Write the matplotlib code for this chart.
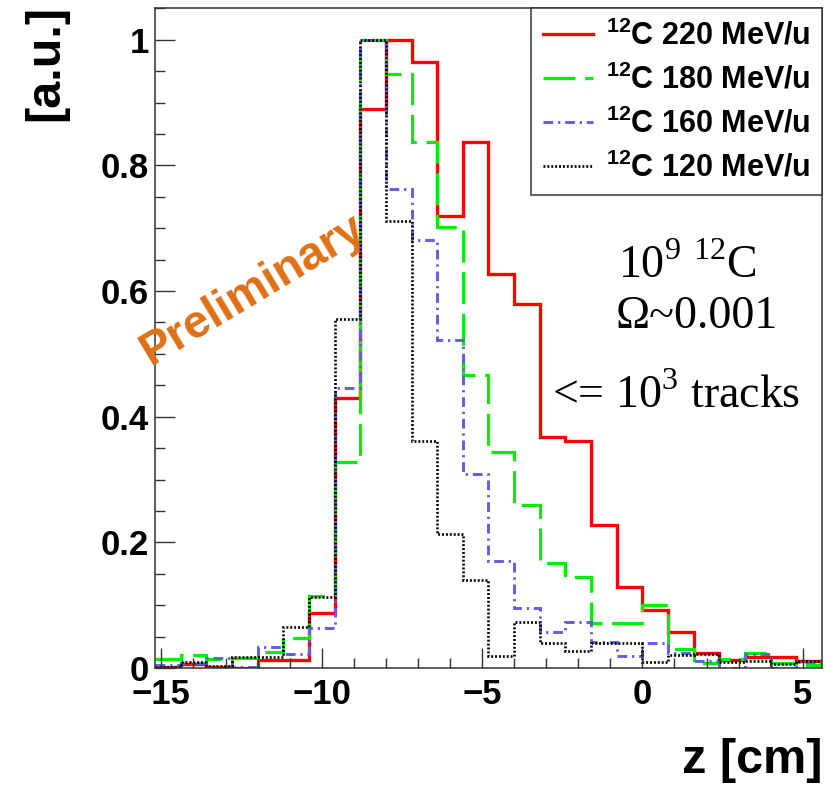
import numpy as np
import matplotlib
matplotlib.use("Agg")
import matplotlib.pyplot as plt
from matplotlib.ticker import MultipleLocator, FuncFormatter

plt.rcParams["font.family"] = ["Liberation Sans", "DejaVu Sans"]
plt.rcParams["font.weight"] = "bold"
plt.rcParams["mathtext.fontset"] = "custom"
plt.rcParams["mathtext.rm"] = "Liberation Serif:weight=normal"
plt.rcParams["mathtext.bf"] = "Liberation Sans:weight=bold"
plt.rcParams["lines.scale_dashes"] = False

# z binning: 26 bins of 0.8 cm from -15.2 to 5.6 cm
bin_edges = np.linspace(-15.2, 5.6, 27)

# normalised counts per bin for each beam energy
c220 = [0.002, 0.007, 0.002, 0.000, 0.012, 0.012, 0.088, 0.429, 0.890, 1.000,
        0.964, 0.720, 0.837, 0.627, 0.579, 0.368, 0.361, 0.227, 0.129, 0.093,
        0.057, 0.024, 0.012, 0.018, 0.017, 0.011]
c180 = [0.015, 0.021, 0.014, 0.016, 0.026, 0.047, 0.115, 0.328, 1.000, 0.945,
        0.837, 0.702, 0.467, 0.344, 0.259, 0.167, 0.145, 0.071, 0.071, 0.100,
        0.031, 0.008, 0.015, 0.024, 0.008, 0.004]
c160 = [0.004, 0.008, 0.016, 0.001, 0.034, 0.023, 0.063, 0.445, 1.000, 0.763,
        0.682, 0.522, 0.308, 0.170, 0.095, 0.057, 0.073, 0.042, 0.019, 0.040,
        0.024, 0.011, 0.000, 0.023, 0.000, 0.010]
c120 = [0.001, 0.010, 0.003, 0.018, 0.018, 0.065, 0.113, 0.556, 1.000, 0.712,
        0.361, 0.214, 0.140, 0.019, 0.073, 0.039, 0.027, 0.039, 0.039, 0.010,
        0.020, 0.022, 0.010, 0.011, 0.006, 0.011]

labels = [r"$^{\mathbf{12}}$C 220 MeV/u", r"$^{\mathbf{12}}$C 180 MeV/u",
          r"$^{\mathbf{12}}$C 160 MeV/u", r"$^{\mathbf{12}}$C 120 MeV/u"]
x_ticks = [-15, -10, -5, 0, 5]
y_ticks = [0, 0.2, 0.4, 0.6, 0.8, 1.0]

fig = plt.figure(figsize=(8.26, 7.86), dpi=100)
ax = fig.add_axes([155 / 826, 1 - 668 / 786, 667 / 826, 659.7 / 786])

styles = [
    dict(color="#ff0000", lw=2.4, linestyle="-"),
    dict(color="#00ee00", lw=2.3, linestyle=(0, (23, 7))),
    dict(color="#5f5fe0", lw=2.1, linestyle=(0, (7, 3.5, 1.6, 3.5))),
    dict(color="#000000", lw=1.9, linestyle=(0, (1.4, 1.4))),
]
handles = []
for vals, st, lab in zip([c220, c180, c160, c120], styles, labels):
    ax.stairs(vals, bin_edges, baseline=None, **st)
    h, = ax.plot([], [], label=lab, **st)
    handles.append(h)

ax.set_xlim(-15.2, 5.6)
ax.set_ylim(0, 1.05)
ax.set_xticks(x_ticks)
ax.set_yticks(y_ticks)
ax.xaxis.set_minor_locator(MultipleLocator(1))
ax.yaxis.set_minor_locator(MultipleLocator(0.05))
ax.yaxis.set_major_formatter(FuncFormatter(lambda v, p: f"{v:g}"))
ax.tick_params(which="both", direction="in", top=False, right=False,
               width=1.0, color="#333333", labelsize=25)
ax.tick_params(which="major", length=14.5)
ax.tick_params(which="minor", length=7.5)
ax.tick_params(axis="y", pad=4.5)
ax.tick_params(axis="x", pad=7.0)
for s in ax.spines.values():
    s.set_linewidth(1.1)
    s.set_color("#333333")

ax.set_xlabel("z [cm]", fontsize=35, fontweight="bold", loc="right")
ax.xaxis.set_label_coords(1.0, -0.106)
ax.set_ylabel("[a.u.]", fontsize=35, fontweight="bold", loc="top")
ax.yaxis.set_label_coords(-0.130, 1.005)

leg = ax.legend(handles=handles, loc="upper right", bbox_to_anchor=(1.0, 1.0),
                borderaxespad=0.0, fancybox=False, framealpha=1.0,
                edgecolor="#333333", handlelength=1.64, handletextpad=0.43,
                labelspacing=0.42, borderpad=0.38,
                prop=dict(family="Liberation Sans", weight="bold", size=22))
leg.get_frame().set_linewidth(1.1)

serif = dict(family="Liberation Serif", fontweight="normal", fontsize=33,
             transform=ax.transAxes, va="baseline", ha="left")
ax.text(0.694, 0.591, r"10$^{9}$ $^{12}$C", **serif)
ax.text(0.691, 0.515, "Ω~0.001", **serif)
ax.text(0.595, 0.394, r"<= 10$^{3}$ tracks", **serif)

fig.text(253 / 826, 1 - 290 / 786, "Preliminary", color="#e07016",
         fontsize=33.5, fontweight="bold", rotation=31, ha="center", va="center")

fig.savefig("out.png", dpi=100)
